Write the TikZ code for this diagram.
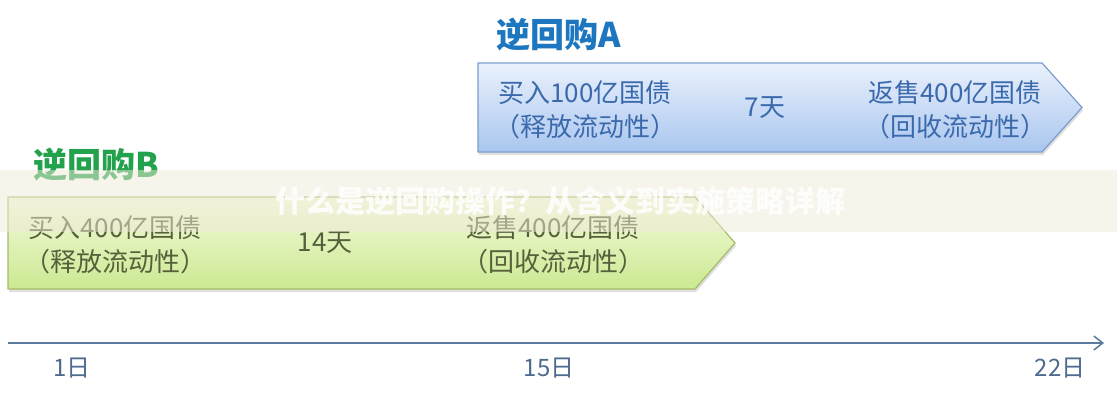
\documentclass[tikz,border=0pt]{standalone}
\usepackage{fontspec}
\setmainfont{Noto Sans CJK SC}
\usetikzlibrary{shadows,arrows.meta}
\definecolor{bluetop}{HTML}{EAF1FC}
\definecolor{bluebot}{HTML}{A9C6EF}
\definecolor{blueedge}{HTML}{7C9DCC}
\definecolor{bluetext}{HTML}{3A69AC}
\definecolor{bluetitle}{HTML}{1C76C0}
\definecolor{greentop}{HTML}{F4FADD}
\definecolor{greenbot}{HTML}{CBE991}
\definecolor{greenedge}{HTML}{A5BA6C}
\definecolor{greentext}{HTML}{56603A}
\definecolor{greentitle}{HTML}{22A24C}
\definecolor{axiscol}{HTML}{5A7A9E}
\definecolor{axistext}{HTML}{4E6A8E}
\definecolor{band}{HTML}{F1EAD8}
\tikzset{
  bluearrow/.style={draw=blueedge, line width=1.2pt, top color=bluetop, bottom color=bluebot,
    drop shadow={opacity=0.25, shadow xshift=1pt, shadow yshift=-3pt}},
  greenarrow/.style={draw=greenedge, line width=1.2pt, top color=greentop, bottom color=greenbot,
    drop shadow={opacity=0.25, shadow xshift=1pt, shadow yshift=-3pt}},
  bodytext/.style={align=center, inner sep=0pt, font=\fontsize{26}{34}\selectfont},
  btext/.style={bodytext, text=bluetext},
  gtext/.style={bodytext, text=greentext},
  titletext/.style={inner sep=0pt, font=\fontsize{34}{40}\selectfont\bfseries},
  axislabel/.style={inner sep=0pt, text=axistext, font=\fontsize{24}{28}\selectfont},
}
\begin{document}
\begin{tikzpicture}[x=1pt,y=-1pt]
\useasboundingbox (0,0) rectangle (1117,400);
\fill[white] (0,0) rectangle (1117,400);
% reverse repo A
\node[titletext, text=bluetitle] (titleA) at (559,35) {逆回购A};
\path[bluearrow] (478,63) -- (1042,63) -- (1082,107.5) -- (1042,152) -- (478,152) -- cycle;
\node[btext] (buyA) at (585,110) {买入100亿国债\\（释放流动性）};
\node[btext] (daysA) at (765,108) {7天};
\node[btext] (sellA) at (955,110) {返售400亿国债\\（回收流动性）};
% reverse repo B
\node[titletext, text=greentitle] (titleB) at (96,165) {逆回购B};
\path[greenarrow] (8,197) -- (695,197) -- (735,243) -- (695,289) -- (8,289) -- cycle;
\node[gtext] (buyB) at (115,245) {买入400亿国债\\（释放流动性）};
\node[gtext] (daysB) at (325,243) {14天};
\node[gtext] (sellB) at (553,245) {返售400亿国债\\（回收流动性）};
% timeline
\coordinate (axstart) at (8,343);
\coordinate (axend) at (1104,343);
\draw[axiscol, line width=1.5pt, -{Straight Barb[length=9pt,width=14pt,line width=1.5pt]}] (axstart) -- (axend);
\node[axislabel] (d1) at (72,368) {1日};
\node[axislabel] (d15) at (549,368) {15日};
\node[axislabel] (d22) at (1060,368) {22日};
% watermark band
\fill[band, opacity=0.5] (0,170) rectangle (1117,232);
\node[inner sep=0pt, text=white, opacity=0.85, font=\fontsize{30}{34}\selectfont\bfseries] (wm) at (560,201) {什么是逆回购操作？从含义到实施策略详解};
\end{tikzpicture}
\end{document}
